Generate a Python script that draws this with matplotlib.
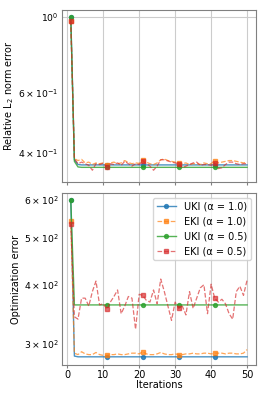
import numpy as np
import matplotlib
matplotlib.use("Agg")
import matplotlib.pyplot as plt

iters = np.arange(1, 51)

# relative L2 norm error
l2_uki_10 = [1.0, 0.382, 0.370] + [0.369] * 47
l2_eki_10 = [0.975, 0.385, 0.380, 0.383, 0.374, 0.376, 0.370, 0.374, 0.372, 0.374,
             0.370, 0.374, 0.376, 0.372, 0.374, 0.380, 0.375, 0.372, 0.374, 0.373,
             0.381, 0.376, 0.372, 0.370, 0.374, 0.382, 0.384, 0.380, 0.378, 0.376,
             0.374, 0.372, 0.374, 0.370, 0.372, 0.372, 0.370, 0.374, 0.372, 0.372,
             0.380, 0.374, 0.376, 0.378, 0.380, 0.380, 0.378, 0.376, 0.374, 0.376]
l2_uki_05 = [1.0, 0.378, 0.364] + [0.363] * 47
l2_eki_05 = [0.975, 0.385, 0.372, 0.376, 0.372, 0.368, 0.356, 0.372, 0.370, 0.373,
             0.365, 0.372, 0.370, 0.374, 0.368, 0.378, 0.372, 0.366, 0.372, 0.370,
             0.379, 0.372, 0.366, 0.356, 0.366, 0.382, 0.382, 0.379, 0.376, 0.374,
             0.372, 0.362, 0.366, 0.370, 0.374, 0.376, 0.368, 0.370, 0.370, 0.368,
             0.374, 0.360, 0.362, 0.370, 0.376, 0.376, 0.372, 0.370, 0.372, 0.372]

# optimization error
opt_uki_10 = [600, 283] + [282] * 48
opt_eki_10 = [541, 287, 285, 289, 286, 285, 285, 288, 285, 284,
              284, 285, 285, 286, 285, 285, 286, 287, 287, 286,
              289, 286, 285, 285, 286, 288, 286, 285, 285, 286,
              285, 285, 286, 286, 287, 286, 286, 287, 287, 286,
              287, 287, 287, 286, 287, 287, 286, 286, 287, 292]
opt_uki_05 = [600] + [362] * 49
opt_eki_05 = [534, 342, 338, 374, 374, 360, 386, 406, 362, 364,
              355, 367, 377, 389, 347, 360, 377, 374, 322, 381,
              379, 370, 367, 389, 364, 410, 386, 360, 336, 367,
              356, 360, 345, 386, 356, 374, 393, 399, 347, 400,
              374, 367, 372, 364, 347, 338, 386, 396, 379, 408]

labels = ["UKI (α = 1.0)", "EKI (α = 1.0)", "UKI (α = 0.5)", "EKI (α = 0.5)"]
colors = ["C0", "C1", "C2", "C3"]
styles = [("-", "o", 0.8, 1.0), ("--", "s", 0.7, 0.9),
          ("-", "o", 0.8, 1.0), ("--", "s", 0.65, 0.9)]

plt.rcParams["font.size"] = 7

fig = plt.figure(figsize=(2.66, 3.99), dpi=100)
ax1 = fig.add_axes([0.233, 0.544, 0.729, 0.431])
ax2 = fig.add_axes([0.233, 0.085, 0.729, 0.431])

for ax, series in ((ax1, [l2_uki_10, l2_eki_10, l2_uki_05, l2_eki_05]),
                   (ax2, [opt_uki_10, opt_eki_10, opt_uki_05, opt_eki_05])):
    for y, lab, c, (ls, mk, a, w) in zip(series, labels, colors, styles):
        ax.plot(iters, y, ls, marker=mk, color=c, label=lab, alpha=a,
                lw=w, markersize=2.8, markevery=10)
    ax.set_yscale("log")
    ax.grid(True, color="0.8", lw=0.8)
    for s in ax.spines.values():
        s.set_color("0.5")
    ax.set_xticks([0, 10, 20, 30, 40, 50])
    ax.tick_params(axis="y", which="both", length=0, pad=2.5, labelsize=6.7)
    ax.tick_params(axis="x", length=2, pad=1.5, color="0.5")

ax1.set_ylim(0.329, 1.048)
ax2.set_ylim(271, 620)
ax1.tick_params(axis="x", labelbottom=False)
ax1.set_ylabel(r"Relative L$_2$ norm error", labelpad=2)
ax2.set_ylabel("Optimization error", labelpad=2)
ax2.set_xlabel("Iterations", labelpad=0)
ax2.legend(loc="upper right", fontsize=7)

fig.savefig("out.png", dpi=100)
